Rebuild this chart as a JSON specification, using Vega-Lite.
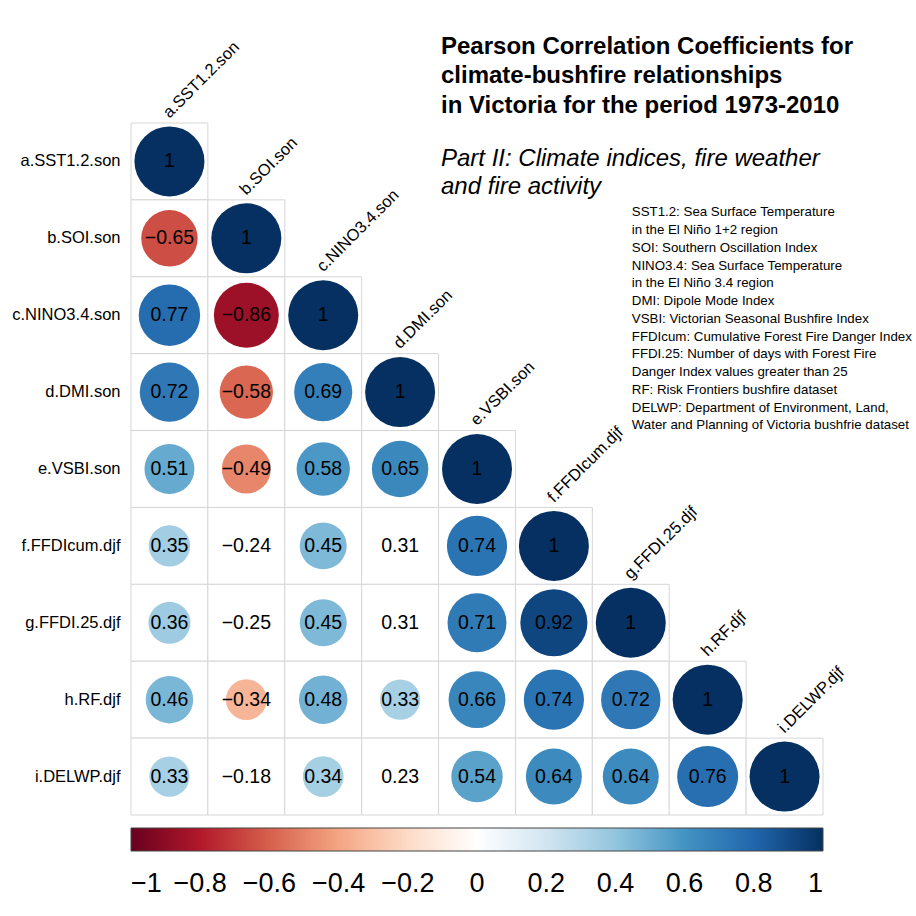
{
  "$schema": "https://vega.github.io/schema/vega-lite/v6.json",
  "width": 692,
  "height": 692,
  "autosize": "none",
  "padding": {"left": 131, "top": 123, "right": 93, "bottom": 101},
  "background": "white",
  "config": {"view": {"stroke": null}, "font": "Liberation Sans"},
  "title": {
    "text": ["Pearson Correlation Coefficients for", "climate-bushfire relationships", "in Victoria for the period 1973-2010"],
    "subtitle": ["Part II: Climate indices, fire weather", "and fire activity"],
    "anchor": "start",
    "frame": "group",
    "dx": 310,
    "offset": -160,
    "font": "Liberation Sans",
    "fontSize": 24,
    "fontWeight": "bold",
    "lineHeight": 29.5,
    "color": "black",
    "subtitleFont": "Liberation Sans",
    "subtitleFontSize": 24,
    "subtitleFontStyle": "italic",
    "subtitleLineHeight": 28,
    "subtitleColor": "black",
    "subtitlePadding": 29
  },
  "datasets": {
    "corr": [
      {"row": "a.SST1.2.son", "col": "a.SST1.2.son", "r": 1, "sig": true},
      {"row": "b.SOI.son", "col": "a.SST1.2.son", "r": -0.65, "sig": true},
      {"row": "b.SOI.son", "col": "b.SOI.son", "r": 1, "sig": true},
      {"row": "c.NINO3.4.son", "col": "a.SST1.2.son", "r": 0.77, "sig": true},
      {"row": "c.NINO3.4.son", "col": "b.SOI.son", "r": -0.86, "sig": true},
      {"row": "c.NINO3.4.son", "col": "c.NINO3.4.son", "r": 1, "sig": true},
      {"row": "d.DMI.son", "col": "a.SST1.2.son", "r": 0.72, "sig": true},
      {"row": "d.DMI.son", "col": "b.SOI.son", "r": -0.58, "sig": true},
      {"row": "d.DMI.son", "col": "c.NINO3.4.son", "r": 0.69, "sig": true},
      {"row": "d.DMI.son", "col": "d.DMI.son", "r": 1, "sig": true},
      {"row": "e.VSBI.son", "col": "a.SST1.2.son", "r": 0.51, "sig": true},
      {"row": "e.VSBI.son", "col": "b.SOI.son", "r": -0.49, "sig": true},
      {"row": "e.VSBI.son", "col": "c.NINO3.4.son", "r": 0.58, "sig": true},
      {"row": "e.VSBI.son", "col": "d.DMI.son", "r": 0.65, "sig": true},
      {"row": "e.VSBI.son", "col": "e.VSBI.son", "r": 1, "sig": true},
      {"row": "f.FFDIcum.djf", "col": "a.SST1.2.son", "r": 0.35, "sig": true},
      {"row": "f.FFDIcum.djf", "col": "b.SOI.son", "r": -0.24, "sig": false},
      {"row": "f.FFDIcum.djf", "col": "c.NINO3.4.son", "r": 0.45, "sig": true},
      {"row": "f.FFDIcum.djf", "col": "d.DMI.son", "r": 0.31, "sig": false},
      {"row": "f.FFDIcum.djf", "col": "e.VSBI.son", "r": 0.74, "sig": true},
      {"row": "f.FFDIcum.djf", "col": "f.FFDIcum.djf", "r": 1, "sig": true},
      {"row": "g.FFDI.25.djf", "col": "a.SST1.2.son", "r": 0.36, "sig": true},
      {"row": "g.FFDI.25.djf", "col": "b.SOI.son", "r": -0.25, "sig": false},
      {"row": "g.FFDI.25.djf", "col": "c.NINO3.4.son", "r": 0.45, "sig": true},
      {"row": "g.FFDI.25.djf", "col": "d.DMI.son", "r": 0.31, "sig": false},
      {"row": "g.FFDI.25.djf", "col": "e.VSBI.son", "r": 0.71, "sig": true},
      {"row": "g.FFDI.25.djf", "col": "f.FFDIcum.djf", "r": 0.92, "sig": true},
      {"row": "g.FFDI.25.djf", "col": "g.FFDI.25.djf", "r": 1, "sig": true},
      {"row": "h.RF.djf", "col": "a.SST1.2.son", "r": 0.46, "sig": true},
      {"row": "h.RF.djf", "col": "b.SOI.son", "r": -0.34, "sig": true},
      {"row": "h.RF.djf", "col": "c.NINO3.4.son", "r": 0.48, "sig": true},
      {"row": "h.RF.djf", "col": "d.DMI.son", "r": 0.33, "sig": true},
      {"row": "h.RF.djf", "col": "e.VSBI.son", "r": 0.66, "sig": true},
      {"row": "h.RF.djf", "col": "f.FFDIcum.djf", "r": 0.74, "sig": true},
      {"row": "h.RF.djf", "col": "g.FFDI.25.djf", "r": 0.72, "sig": true},
      {"row": "h.RF.djf", "col": "h.RF.djf", "r": 1, "sig": true},
      {"row": "i.DELWP.djf", "col": "a.SST1.2.son", "r": 0.33, "sig": true},
      {"row": "i.DELWP.djf", "col": "b.SOI.son", "r": -0.18, "sig": false},
      {"row": "i.DELWP.djf", "col": "c.NINO3.4.son", "r": 0.34, "sig": true},
      {"row": "i.DELWP.djf", "col": "d.DMI.son", "r": 0.23, "sig": false},
      {"row": "i.DELWP.djf", "col": "e.VSBI.son", "r": 0.54, "sig": true},
      {"row": "i.DELWP.djf", "col": "f.FFDIcum.djf", "r": 0.64, "sig": true},
      {"row": "i.DELWP.djf", "col": "g.FFDI.25.djf", "r": 0.64, "sig": true},
      {"row": "i.DELWP.djf", "col": "h.RF.djf", "r": 0.76, "sig": true},
      {"row": "i.DELWP.djf", "col": "i.DELWP.djf", "r": 1, "sig": true}
    ],
    "vars": [
      {"row": "a.SST1.2.son", "col": "a.SST1.2.son"},
      {"row": "b.SOI.son", "col": "b.SOI.son"},
      {"row": "c.NINO3.4.son", "col": "c.NINO3.4.son"},
      {"row": "d.DMI.son", "col": "d.DMI.son"},
      {"row": "e.VSBI.son", "col": "e.VSBI.son"},
      {"row": "f.FFDIcum.djf", "col": "f.FFDIcum.djf"},
      {"row": "g.FFDI.25.djf", "col": "g.FFDI.25.djf"},
      {"row": "h.RF.djf", "col": "h.RF.djf"},
      {"row": "i.DELWP.djf", "col": "i.DELWP.djf"}
    ]
  },
  "data": {"name": "corr"},
  "encoding": {
    "x": {
      "field": "col", "type": "nominal",
      "scale": {"domain": ["a.SST1.2.son", "b.SOI.son", "c.NINO3.4.son", "d.DMI.son", "e.VSBI.son", "f.FFDIcum.djf", "g.FFDI.25.djf", "h.RF.djf", "i.DELWP.djf"], "paddingInner": 0, "paddingOuter": 0},
      "axis": null
    },
    "y": {
      "field": "row", "type": "nominal",
      "scale": {"domain": ["a.SST1.2.son", "b.SOI.son", "c.NINO3.4.son", "d.DMI.son", "e.VSBI.son", "f.FFDIcum.djf", "g.FFDI.25.djf", "h.RF.djf", "i.DELWP.djf"], "paddingInner": 0, "paddingOuter": 0},
      "axis": {"title": null, "ticks": false, "domain": false, "grid": false, "labelFont": "Liberation Sans", "labelFontSize": 16.5, "labelColor": "black", "labelPadding": 11}
    }
  },
  "layer": [
    {
      "mark": {"type": "rect", "fill": "white", "stroke": "#d6d6d6", "strokeWidth": 1}
    },
    {
      "transform": [{"filter": "datum.sig"}],
      "mark": {"type": "point", "shape": "circle", "filled": true, "opacity": 1, "strokeWidth": 0},
      "encoding": {
        "size": {"field": "r", "type": "quantitative", "scale": {"type": "linear", "domain": [-1, 0, 1], "range": [4900, 0, 4900]}, "legend": null},
        "color": {
          "field": "r", "type": "quantitative",
          "scale": {"domain": [-1, -0.8, -0.6, -0.4, -0.2, 0, 0.2, 0.4, 0.6, 0.8, 1], "range": ["#67001F", "#B2182B", "#D6604D", "#F4A582", "#FDDBC7", "#FFFFFF", "#D1E5F0", "#92C5DE", "#4393C3", "#2166AC", "#053061"], "interpolate": "rgb"},
          "legend": {
            "orient": "none", "direction": "horizontal", "legendX": 0, "legendY": 705, "padding": 0,
            "title": null, "gradientLength": 692, "gradientThickness": 23,
            "gradientStrokeColor": "#444444", "gradientStrokeWidth": 1,
            "values": [-1, -0.8, -0.6, -0.4, -0.2, 0, 0.2, 0.4, 0.6, 0.8, 1],
            "format": ".1~f", "labelFont": "Liberation Sans", "labelFontSize": 27, "labelColor": "black",
            "labelAlign": "center", "labelOffset": 20, "labelOverlap": false
          }
        }
      }
    },
    {
      "mark": {"type": "text", "font": "Liberation Sans", "fontSize": 19.5, "color": "black"},
      "encoding": {"text": {"field": "r", "type": "quantitative", "format": ".2~f"}}
    },
    {
      "data": {"name": "vars"},
      "mark": {"type": "text", "font": "Liberation Sans", "fontSize": 16.5, "color": "black", "angle": 315, "align": "left", "baseline": "alphabetic", "dx": 3, "dy": -3},
      "encoding": {
        "y": {"field": "row", "type": "nominal", "bandPosition": 0},
        "text": {"field": "col"}
      }
    },
    {
      "data": {"values": [{}]},
      "mark": {"type": "text", "font": "Liberation Sans", "fontSize": 13.3, "lineHeight": 17.75, "color": "black", "align": "left", "baseline": "alphabetic", "dx": 1, "dy": 55},
      "encoding": {
        "x": {"datum": "g.FFDI.25.djf", "type": "nominal"},
        "y": {"datum": "a.SST1.2.son", "type": "nominal"},
        "text": {"value": ["SST1.2: Sea Surface Temperature", "in the El Niño 1+2 region", "SOI: Southern Oscillation Index", "NINO3.4: Sea Surface Temperature", "in the El Niño 3.4 region", "DMI: Dipole Mode Index", "VSBI: Victorian Seasonal Bushfire Index", "FFDIcum: Cumulative Forest Fire Danger Index", "FFDI.25: Number of days with Forest Fire", "Danger Index values greater than 25", "RF: Risk Frontiers bushfire dataset", "DELWP: Department of Environment, Land,", "Water and Planning of Victoria bushfrie dataset"]}
      }
    }
  ]
}
